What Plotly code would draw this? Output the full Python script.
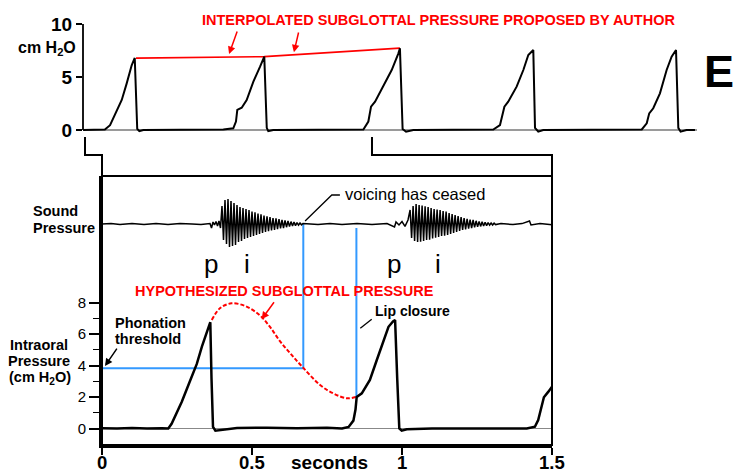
import plotly.graph_objects as go

W, H = 737, 473
FONT = "Liberation Sans, Arial, sans-serif"

# ---------------- data: upper panel (long record) ----------------
top_t = [-0.01, 0.104, 0.131, 0.166, 0.192, 0.218, 0.244, 0.26, 0.273, 0.284, 0.305,
         0.50, 0.723, 0.775, 0.789, 0.796, 0.819, 0.845, 0.880, 0.915, 0.937, 0.950, 0.958, 0.984,
         1.20, 1.455, 1.481, 1.495, 1.516, 1.559, 1.603, 1.638, 1.646, 1.660, 1.678, 1.716,
         1.95, 2.134, 2.169, 2.192, 2.212, 2.256, 2.291, 2.317, 2.343, 2.352, 2.369, 2.395,
         2.65, 2.910, 2.936, 2.949, 2.970, 3.005, 3.040, 3.066, 3.089, 3.101, 3.113, 3.144, 3.188]
top_p = [0, 0.05, 0.45, 1.73, 2.83, 4.4, 6.1, 6.8, 0.1, -0.1, 0,
         0.02, 0.05, 0.16, 0.8, 1.9, 2.1, 2.83, 4.56, 5.97, 6.92, 0.2, -0.1, 0,
         0.02, 0.05, 0.8, 2.2, 2.67, 4.09, 5.66, 7.23, 7.7, 0.1, -0.16, 0,
         0.02, 0.05, 0.47, 2.2, 2.67, 4.09, 5.66, 7.08, 7.55, 0.2, -0.16, 0,
         0.02, 0.05, 0.63, 1.57, 2.05, 3.46, 5.66, 6.92, 7.55, 0.2, -0.16, 0, 0]
interp_t = [0.2665, 0.937, 1.646]
interp_p = [6.78, 6.92, 7.72]
top_ticks = [0, 5, 10]

# ---------------- data: lower panel (expanded 0-1.5 s) ----------------
oral_t = [0, 0.05, 0.10, 0.15, 0.20, 0.221, 0.232, 0.245, 0.266, 0.293, 0.316, 0.333, 0.350, 0.358,
          0.361, 0.365, 0.370, 0.378, 0.393, 0.45, 0.55, 0.65, 0.75, 0.80, 0.822, 0.838, 0.845,
          0.849, 0.866, 0.893, 0.916, 0.938, 0.955, 0.970, 0.977, 0.984, 0.991, 0.999, 1.016,
          1.10, 1.20, 1.30, 1.416, 1.443, 1.454, 1.466, 1.473, 1.488, 1.50]
oral_p = [0.02, 0.0, 0.03, 0.0, 0.02, 0.0, 0.3, 0.8, 1.7, 3.0, 4.1, 5.2, 6.2, 6.6,
          6.75, 3.2, 0.1, -0.14, -0.1, 0.03, 0.05, 0.02, 0.04, 0.0, 0.1, 0.5, 1.2,
          2.0, 2.23, 3.08, 4.35, 5.62, 6.46, 6.8, 6.89, 3.2, 0.0, -0.14, -0.05,
          0.0, 0.02, 0.0, 0.0, 0.11, 0.54, 1.38, 1.98, 2.34, 2.65]

subg_t = [0.366, 0.393, 0.432, 0.482, 0.527, 0.560, 0.593, 0.632, 0.671, 0.727, 0.771, 0.816, 0.849]
subg_p = [6.89, 7.63, 7.95, 7.74, 7.17, 6.45, 5.55, 4.67, 3.85, 2.76, 2.23, 1.92, 2.02]

threshold_p = 3.82
voicing_off_t = 0.671
lip_closure_t = 0.848
lip_closure_p = 2.0

# sound pressure (arbitrary units): quiet stretches + two sampled voiced bursts
sound_pre_t = [0, 0.03, 0.06, 0.10, 0.14, 0.18, 0.22, 0.26, 0.30, 0.33, 0.36, 0.365, 0.37,
               0.375, 0.38, 0.385, 0.39, 0.395]
sound_pre_v = [0, 0.03, -0.02, 0.02, -0.03, 0.02, -0.02, 0.03, 0, -0.02, 0.02, -0.2, 0.1,
               -0.05, 0.12, -0.1, 0.15, -0.2]
burst_dt = 0.005
burst1_start = 0.400
burst1_v = [0.9, -0.8, 1.2, -1.0, 1.25, -1.15, 1.15, -1.1, 1.05, -1.05, 0.95, -0.9, 0.85, -0.85,
            0.8, -0.75, 0.75, -0.7, 0.7, -0.65, 0.62, -0.6, 0.58, -0.55, 0.52, -0.5, 0.48, -0.45,
            0.42, -0.4, 0.38, -0.36, 0.35, -0.32, 0.3, -0.3, 0.28, -0.26, 0.25, -0.22, 0.2, -0.2,
            0.18, -0.16, 0.15, -0.13, 0.12, -0.1, 0.1, -0.08, 0.07, -0.06, 0.05, -0.04, 0.03]
sound_mid_t = [0.68, 0.72, 0.76, 0.80, 0.85, 0.90, 0.95, 0.975, 0.98, 0.99, 1.0, 1.01, 1.02]
sound_mid_v = [0.02, -0.03, 0.02, -0.02, 0.02, -0.02, 0.02, -0.15, 0.1, -0.05, 0.12, -0.12, 0.2]
burst2_start = 1.027
burst2_v = [0.7, -0.7, 0.9, -0.85, 1.0, -0.9, 0.95, -0.88, 0.92, -0.85, 0.88, -0.8, 0.85, -0.78,
            0.8, -0.72, 0.75, -0.68, 0.72, -0.65, 0.7, -0.6, 0.65, -0.58, 0.62, -0.55, 0.55, -0.5,
            0.5, -0.45, 0.45, -0.4, 0.4, -0.35, 0.35, -0.3, 0.3, -0.27, 0.26, -0.23, 0.22, -0.2,
            0.2, -0.17, 0.16, -0.14, 0.13, -0.12, 0.11, -0.1, 0.09, -0.08, 0.07, -0.06, 0.05,
            -0.05, 0.04, -0.03]
sound_post_t = [1.33, 1.37, 1.40, 1.425, 1.43, 1.46, 1.50]
sound_post_v = [0.02, -0.03, 0.02, 0.15, -0.05, 0.02, -0.04]

x2_ticks = [0, 0.5, 1, 1.5]
x2_labels = ["0", "0.5", "1", "1.5"]
y2_ticks = [0, 2, 4, 6, 8]
y2_minor = [1, 3, 5, 7]

# ---------------- assemble sound trace ----------------
sound_t = (sound_pre_t
           + [burst1_start + i * burst_dt for i in range(len(burst1_v))]
           + sound_mid_t
           + [burst2_start + i * burst_dt for i in range(len(burst2_v))]
           + sound_post_t)
sound_v = sound_pre_v + burst1_v + sound_mid_v + burst2_v + sound_post_v

# ---------------- layout geometry (reference pixels) ----------------
def PX(x):
    return x / W

def PY(y):
    return 1 - y / H

TOP_T0_PX, TOP_PPS = 85.0, 191.33          # top panel: pixel of t=0, pixels per second
TOP_L, TOP_R = 83.0, 697.0
TOP_Y10, TOP_Y0 = 24.0, 130.0
top_ppu = (TOP_Y0 - TOP_Y10) / 10.0
TOP_BOT = 134.0
top_xr = [(TOP_L - TOP_T0_PX) / TOP_PPS, (TOP_R - TOP_T0_PX) / TOP_PPS]
top_yr = [-(TOP_BOT - TOP_Y0) / top_ppu, 10]

BOT_L, BOT_R, BOT_T, BOT_B = 102.0, 552.0, 176.0, 445.0
Y2_ZERO, Y2_PPU = 428.5, 15.75
y2r = [(Y2_ZERO - BOT_B) / Y2_PPU, (Y2_ZERO - BOT_T) / Y2_PPU]
SND_ZERO, SND_PPU = 224.0, 20.0
y3r = [(SND_ZERO - BOT_B) / SND_PPU, (SND_ZERO - BOT_T) / SND_PPU]

def y3_to_y2(v):
    f = (v - y3r[0]) / (y3r[1] - y3r[0])
    return y2r[0] + f * (y2r[1] - y2r[0])

fig = go.Figure()

# upper panel
fig.add_trace(go.Scatter(x=interp_t, y=interp_p, mode="lines", xaxis="x", yaxis="y",
                         line=dict(color="red", width=1.6), hoverinfo="skip"))
fig.add_trace(go.Scatter(x=top_t, y=top_p, mode="lines", xaxis="x", yaxis="y",
                         line=dict(color="black", width=2), hoverinfo="skip"))

# lower panel: blue reference lines
snd_top_a = y3_to_y2(0.0)
snd_top_b = y3_to_y2(-0.2)
fig.add_trace(go.Scatter(x=[0, voicing_off_t, voicing_off_t], y=[threshold_p, threshold_p, snd_top_a],
                         mode="lines", xaxis="x2", yaxis="y2",
                         line=dict(color="#3399FF", width=2), hoverinfo="skip"))
fig.add_trace(go.Scatter(x=[lip_closure_t, lip_closure_t], y=[lip_closure_p, snd_top_b],
                         mode="lines", xaxis="x2", yaxis="y2",
                         line=dict(color="#3399FF", width=2), hoverinfo="skip"))
# hypothesized subglottal pressure
fig.add_trace(go.Scatter(x=subg_t, y=subg_p, mode="lines", xaxis="x2", yaxis="y2",
                         line=dict(color="red", width=2, dash="4px,2px", shape="spline"),
                         hoverinfo="skip"))
# intraoral pressure
fig.add_trace(go.Scatter(x=oral_t, y=oral_p, mode="lines", xaxis="x2", yaxis="y2",
                         line=dict(color="black", width=2.5), hoverinfo="skip"))
# sound pressure
fig.add_trace(go.Scatter(x=sound_t, y=sound_v, mode="lines", xaxis="x2", yaxis="y3",
                         line=dict(color="black", width=1.5), hoverinfo="skip"))

ann = []
def txt(text, x, y, size=14.5, bold=True, color="black", xanchor="left", xref="paper", yref="paper"):
    ann.append(dict(text=text, x=x, y=y, xref=xref, yref=yref, xanchor=xanchor, yanchor="middle",
                    showarrow=False,
                    font=dict(family=FONT, size=size, color=color, weight="bold" if bold else "normal")))

txt("INTERPOLATED SUBGLOTTAL PRESSURE PROPOSED BY AUTHOR", PX(200), PY(20), color="red")
txt("E", PX(736), PY(72), size=45, xanchor="right")
txt("cm H<sub>2</sub>O", PX(47), PY(48), size=16, xanchor="center")
txt("Sound", PX(31), PY(211))
txt("Pressure", PX(31), PY(228))
txt("Intraoral", PX(39), PY(345), xanchor="center")
txt("Pressure", PX(39), PY(361), xanchor="center")
txt("(cm H<sub>2</sub>O)", PX(40), PY(378), xanchor="center")
txt("Phonation", PX(113), PY(323))
txt("threshold", PX(113), PY(339))
txt("HYPOTHESIZED SUBGLOTTAL PRESSURE", PX(133), PY(291), color="red")
txt("Lip closure", PX(373), PY(311), size=14)
txt("voicing has ceased", PX(343), PY(194), size=16.5, bold=False)
for lab, xx in [("p", 211), ("i", 247), ("p", 394), ("i", 437.5)]:
    txt(lab, PX(xx), PY(264), size=26, bold=False, xanchor="center")
txt("seconds", PX(329), PY(462), size=19, xanchor="center")
# time-axis tick labels, placed on the axis' own scale
for tv, tl_ in zip(x2_ticks, x2_labels):
    txt(tl_, tv, PY(462), size=18.5, xanchor="center", xref="x2")

def arrow(x, y, ax, ay, xref, yref, color):
    ann.append(dict(text="", x=x, y=y, ax=ax, ay=ay, xref=xref, yref=yref, axref=xref, ayref=yref,
                    showarrow=True, arrowhead=2, arrowsize=1, arrowwidth=1.5, arrowcolor=color))

arrow(0.753, 7.17, 0.798, 9.43, "x", "y", "red")
arrow(1.092, 7.33, 1.118, 9.34, "x", "y", "red")
arrow(0.532, 6.93, 0.577, 8.11, "x2", "y2", "red")
arrow(0.01, 3.97, 0.053, 5.17, "x2", "y2", "black")

shapes = []
# top y axis line
shapes.append(dict(type="line", xref="x domain", yref="y", x0=0, x1=0, y0=0, y1=10,
                   line=dict(color="black", width=1.8)))
# lower panel frame
shapes.append(dict(type="rect", xref="x2 domain", yref="y2 domain", x0=0, x1=1, y0=0, y1=1,
                   line=dict(color="black", width=2)))
# brackets linking the two panels
tl = TOP_T0_PX
tr = TOP_T0_PX + 1.5 * TOP_PPS
for a, b in [(tl, BOT_L), (tr, BOT_R)]:
    path = "M {} {} L {} {} L {} {} L {} {}".format(PX(a), PY(137), PX(a), PY(155),
                                                   PX(b), PY(155), PX(b), PY(BOT_T))
    shapes.append(dict(type="path", xref="paper", yref="paper", path=path,
                       line=dict(color="black", width=2)))
# "voicing has ceased" leader
shapes.append(dict(type="path", xref="x2", yref="y3",
                   path="M 0.793 1.45 L 0.766 1.45 L 0.677 0.15",
                   line=dict(color="black", width=1.3)))
# "Lip closure" leader
shapes.append(dict(type="line", xref="x2", yref="y2", x0=0.899, y0=6.93, x1=0.861, y1=6.36,
                   line=dict(color="black", width=1.3)))

fig.update_layout(
    width=W, height=H, autosize=False,
    margin=dict(l=0, r=0, t=0, b=0, autoexpand=False),
    paper_bgcolor="white", plot_bgcolor="white",
    showlegend=False,
    font=dict(family=FONT, color="black"),
    xaxis=dict(domain=[PX(TOP_L), PX(TOP_R)], range=top_xr, visible=False, anchor="y"),
    yaxis=dict(domain=[PY(TOP_BOT), PY(TOP_Y10)], range=top_yr, anchor="x",
               showgrid=False, showline=False, zeroline=True, zerolinecolor="#9a9a9a",
               zerolinewidth=1.5, tickvals=top_ticks, ticks="outside", ticklen=6,
               tickwidth=1.5, tickcolor="black",
               tickfont=dict(family=FONT, size=19, color="black", weight="bold")),
    xaxis2=dict(domain=[PX(BOT_L), PX(BOT_R)], range=[0, 1.5], anchor="y2",
                showgrid=False, zeroline=False, showline=True, linecolor="black", linewidth=3,
                tickvals=x2_ticks, ticks="outside", ticklen=7, tickwidth=1.5,
                tickcolor="black", showticklabels=False),
    yaxis2=dict(domain=[PY(BOT_B), PY(BOT_T)], range=y2r, anchor="x2",
                showgrid=False, zeroline=True, zerolinecolor="#888888", zerolinewidth=1,
                showline=True, linecolor="black", linewidth=3,
                tickvals=y2_ticks, ticks="outside", ticklen=10, tickwidth=1.5, tickcolor="black",
                minor=dict(tickvals=y2_minor, ticks="outside", ticklen=6, tickwidth=1.2,
                           tickcolor="black"),
                tickfont=dict(family=FONT, size=15, color="black")),
    yaxis3=dict(overlaying="y2", range=y3r, visible=False, anchor="x2"),
    annotations=ann,
    shapes=shapes,
)

# remove the browser's default page margin so the 737x473 figure fills the window
page_fix = ("document.body.style.margin='0';document.body.style.padding='0';"
            "document.documentElement.style.overflow='hidden';"
            "var gd=document.getElementById('{plot_id}');if(window.Plotly&&gd){Plotly.Plots.resize(gd);}")

fig.write_html("out.html", post_script=page_fix, config={"displayModeBar": False})
